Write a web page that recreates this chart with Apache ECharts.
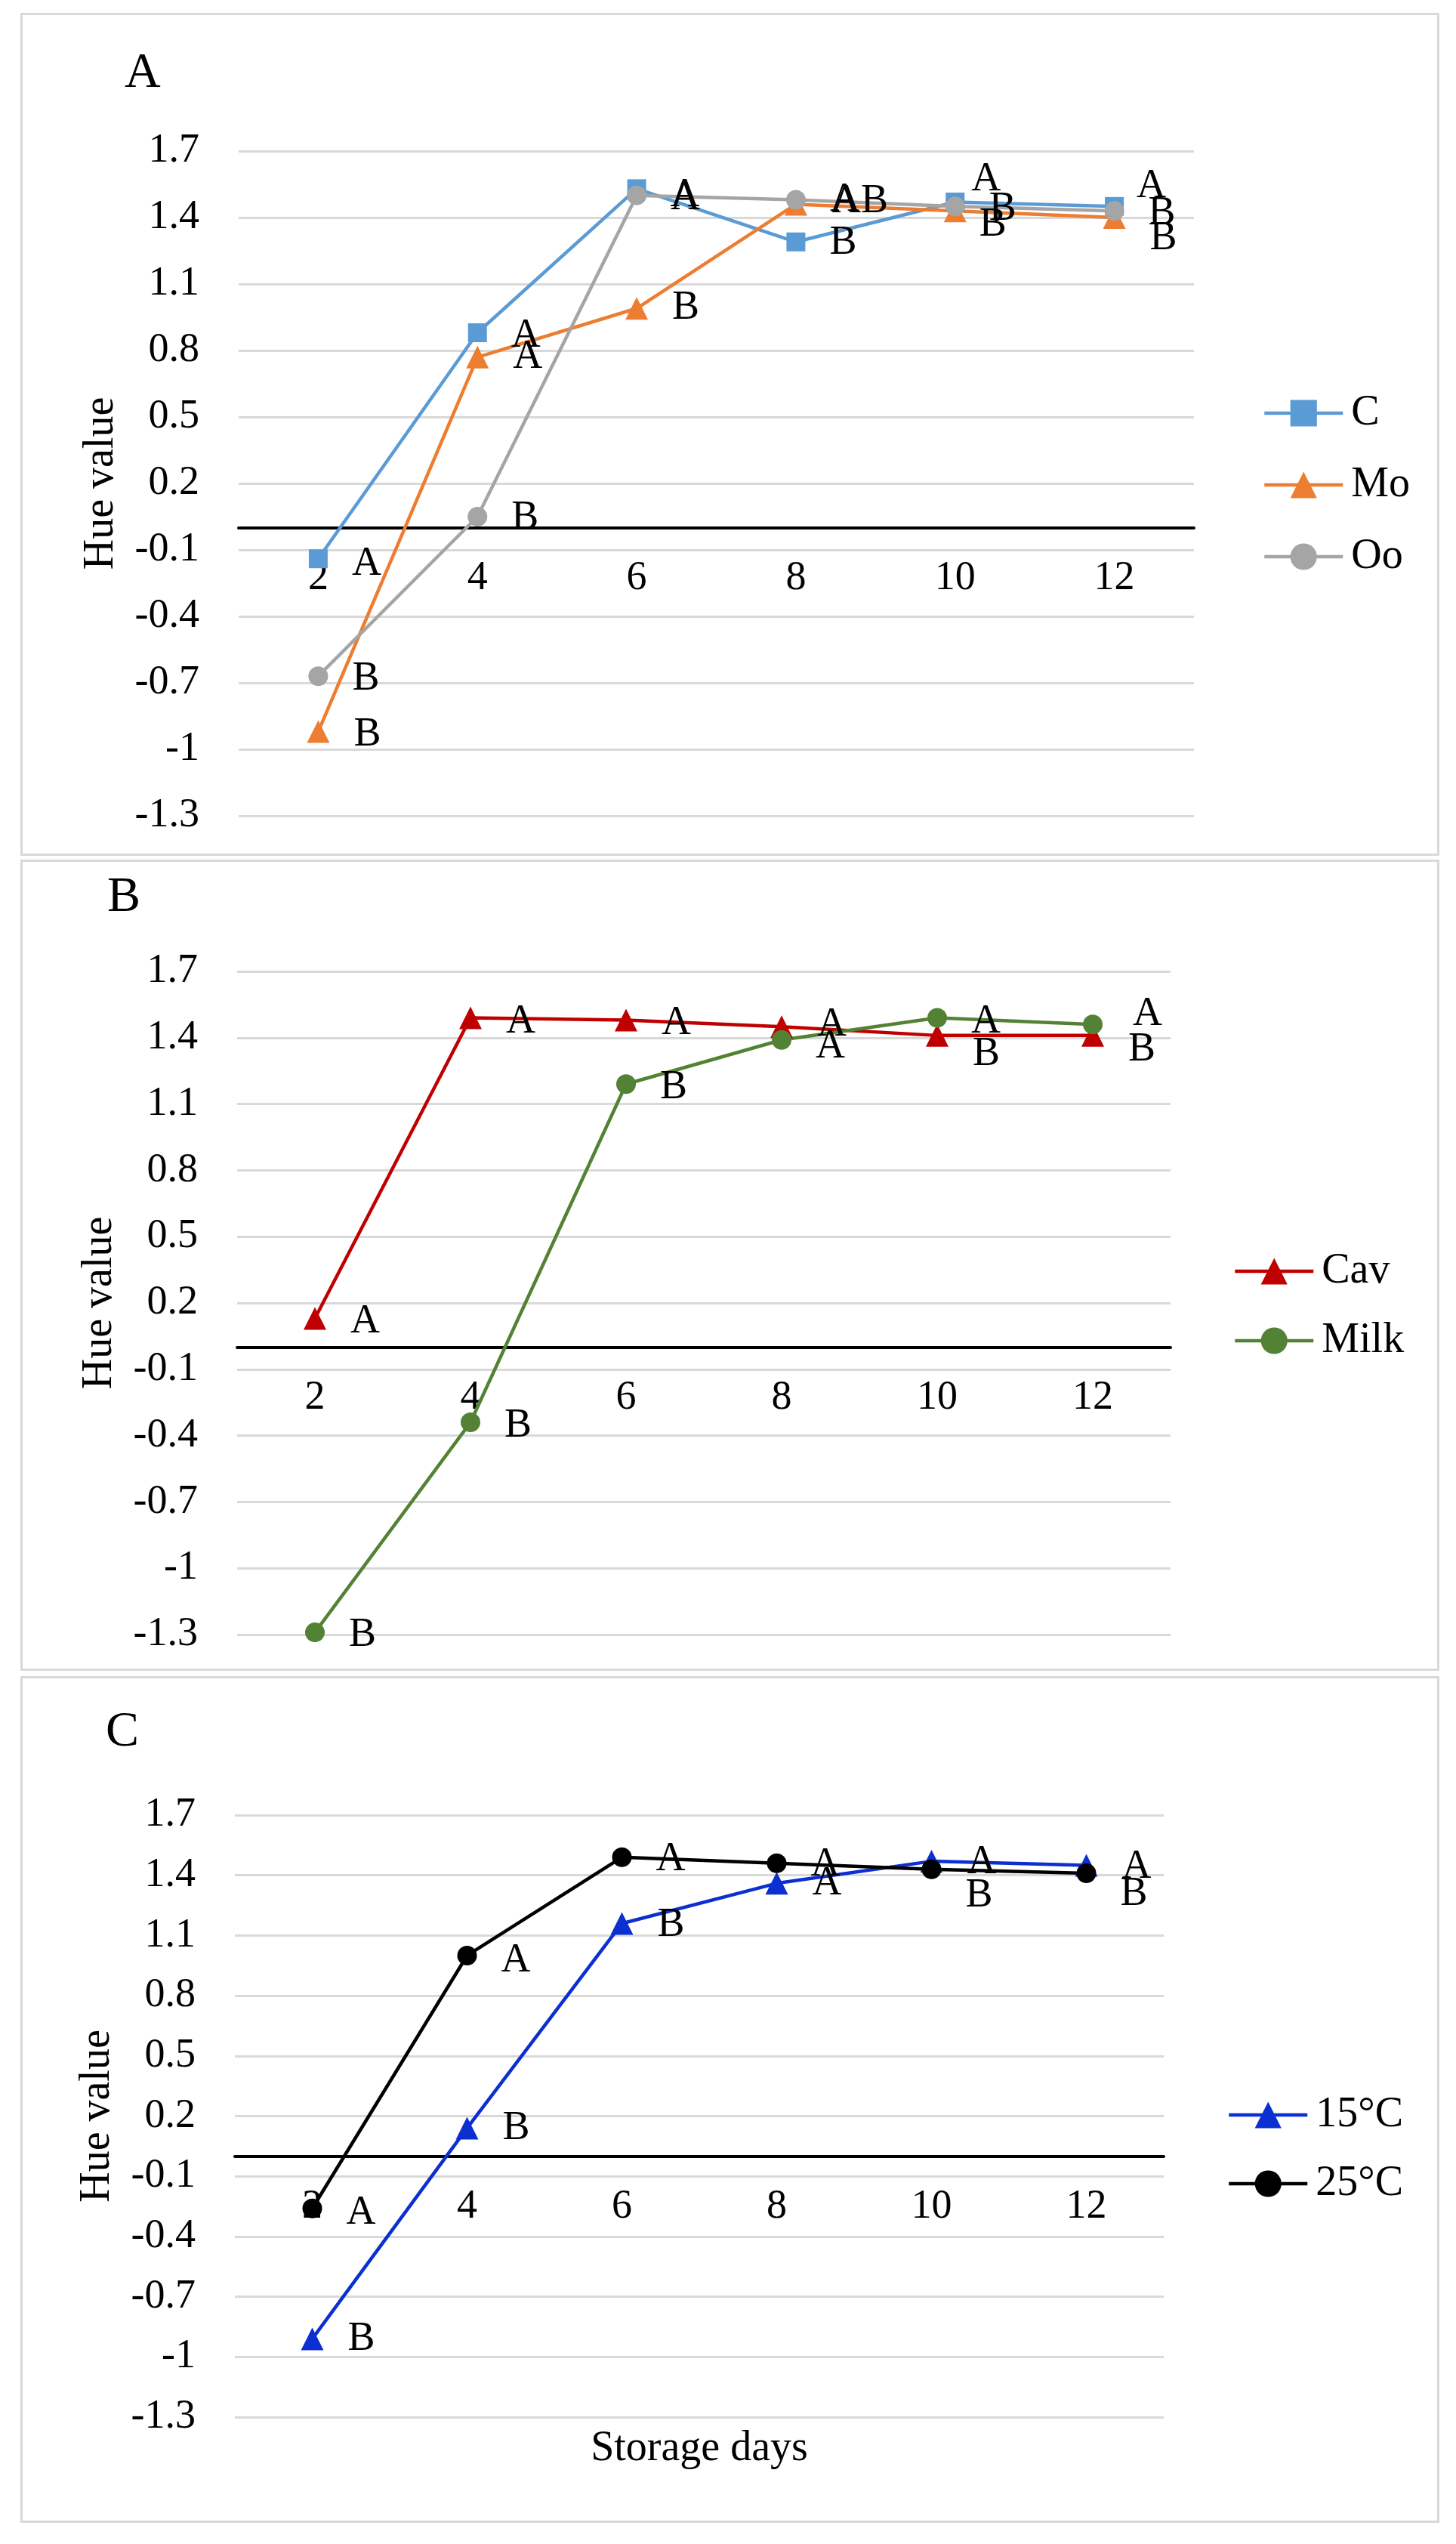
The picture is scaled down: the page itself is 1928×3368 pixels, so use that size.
<!DOCTYPE html>
<html>
<head>
<meta charset="utf-8">
<script src="https://cdn.jsdelivr.net/npm/echarts@6/dist/echarts.min.js"></script>
<style>
body { margin: 0; background: #fff; width: 1928px; height: 3368px; position: relative; }
.panel { position: absolute; left: 27px; width: 1873px; border: 3px solid #d9d9d9; background: #fff; }
</style>
</head>
<body>
<div id="panel-a" class="panel" style="top:17px;height:1110px"></div>
<div id="panel-b" class="panel" style="top:1138px;height:1068px"></div>
<div id="panel-c" class="panel" style="top:2219px;height:1115px"></div>
<script>
// storage days (x axis)
var days = ['2', '4', '6', '8', '10', '12'];

// panel A
var hueC  = [-0.14, 0.88, 1.53, 1.29, 1.47, 1.45];
var hueMo = [-0.92, 0.77, 0.99, 1.46, 1.43, 1.40];
var hueOo = [-0.67, 0.05, 1.50, 1.48, 1.45, 1.43];
var letC  = ['A', 'A', 'A', 'B', 'A', 'A'];
var letMo = ['B', 'A', 'B', 'AB', 'B', 'B'];
var letOo = ['B', 'B', 'A', 'A', 'B', 'B'];

// panel B
var hueCav  = [0.13, 1.49, 1.48, 1.45, 1.41, 1.41];
var hueMilk = [-1.29, -0.34, 1.19, 1.39, 1.49, 1.46];
var letCav  = ['A', 'A', 'A', 'A', 'B', 'B'];
var letMilk = ['B', 'B', 'B', 'A', 'A', 'A'];

// panel C
var hue15 = [-0.91, 0.14, 1.16, 1.36, 1.47, 1.45];
var hue25 = [-0.26, 1.00, 1.49, 1.46, 1.43, 1.41];
var let15 = ['B', 'B', 'B', 'A', 'A', 'A'];
var let25 = ['A', 'A', 'A', 'A', 'B', 'B'];

// y axis range
var yMin = -1.3, yMax = 1.7, yStep = 0.3;

// label nudges (px) so letters sit like in the figure
var offC    = [[0, 7], [0, 4], [0, 9], [0, 2], [-23, -30], [-15, -27]];
var offMo   = [[0, 4], [0, 0], [0, 0], [0, -4], [-15, 19], [0, 28]];
var offOo   = [[0, 4], [0, 2], [0, 4], [0, 0], [0, 3], [0, 4]];
var offCav  = [[0, 4], [0, 5], [0, 4], [0, -2], [0, 25], [0, 19]];
var offMilk = [[0, 4], [0, 5], [0, 5], [0, 9], [0, 5], [8, -13]];
var off15   = [[0, 0], [0, 0], [0, 2], [0, 0], [0, 2], [0, 2]];
var off25   = [[0, 6], [0, 7], [0, 3], [0, 2], [0, 35], [0, 28]];

var FONT = 'Liberation Serif';

function points(vals, lets, offs) {
    var out = [];
    for (var i = 0; i < vals.length; i++) {
        out.push({ value: vals[i], name: lets[i], label: { offset: offs[i] } });
    }
    return out;
}

function lineSeries(name, color, symbol, size, vals, lets, offs) {
    return {
        name: name,
        type: 'line',
        symbol: symbol,
        symbolSize: size,
        showAllSymbol: true,
        itemStyle: { color: color },
        lineStyle: { color: color, width: 4.5 },
        label: {
            show: true,
            position: 'right',
            distance: 32,
            formatter: '{b}',
            color: '#000',
            fontFamily: FONT,
            fontSize: 54
        },
        data: points(vals, lets, offs)
    };
}

function makePanel(id, p) {
    var chart = echarts.init(document.getElementById(id));
    var option = {
        animation: false,
        backgroundColor: '#fff',
        title: {
            text: p.title,
            left: p.titlePos[0],
            top: p.titlePos[1],
            textStyle: { fontFamily: FONT, fontSize: 66, fontWeight: 'normal', color: '#000' }
        },
        legend: {
            orient: 'vertical',
            left: p.legendPos[0],
            top: p.legendPos[1],
            itemGap: p.legendGap,
            itemWidth: 104,
            itemHeight: 44,
            lineStyle: { width: 4.5 },
            textStyle: { fontFamily: FONT, fontSize: 56, lineHeight: 56, color: '#000', padding: [0, 0, 0, 6] },
            data: p.series.map(function (s) { return s.name; })
        },
        grid: {
            left: p.grid[0], top: p.grid[1], width: p.grid[2], height: p.grid[3],
            containLabel: false,
            outerBoundsMode: 'none'
        },
        xAxis: {
            type: 'category',
            data: days,
            boundaryGap: true,
            name: p.xName || '',
            nameLocation: 'middle',
            nameGap: 360,
            nameTextStyle: { fontFamily: FONT, fontSize: 56, color: '#000' },
            axisLine: { onZero: false, lineStyle: { color: '#000', width: 4 } },
            axisTick: { show: false },
            axisLabel: { margin: 40, fontFamily: FONT, fontSize: 54, color: '#000' },
            splitLine: { show: false }
        },
        yAxis: {
            type: 'value',
            min: yMin,
            max: yMax,
            interval: yStep,
            name: 'Hue value',
            nameLocation: 'middle',
            nameGap: 154,
            nameTextStyle: { fontFamily: FONT, fontSize: 56, color: '#000' },
            axisLine: { show: false },
            axisTick: { show: false },
            axisLabel: { margin: 52, fontFamily: FONT, fontSize: 54, color: '#000' },
            splitLine: { lineStyle: { color: '#d9d9d9', width: 3 } }
        },
        series: p.series
    };
    chart.setOption(option);

    // move the category axis (line + labels) up to where the value axis reads 0
    var zeroY = chart.convertToPixel({ yAxisIndex: 0 }, 0);
    var bottomY = p.grid[1] + p.grid[3];
    chart.setOption({ xAxis: { offset: zeroY - bottomY } });
    return chart;
}

makePanel('panel-a', {
    title: 'A',
    titlePos: [130, 40],
    legendPos: [1637, 494],
    legendGap: 39,
    grid: [286, 180, 1265, 880],
    series: [
        lineSeries('C', '#5b9bd5', 'rect', 25, hueC, letC, offC),
        lineSeries('Mo', '#ed7d31', 'triangle', 30, hueMo, letMo, offMo),
        lineSeries('Oo', '#a5a5a5', 'circle', 26, hueOo, letOo, offOo)
    ]
});

makePanel('panel-b', {
    title: 'B',
    titlePos: [107, 10],
    legendPos: [1598, 509],
    legendGap: 36,
    grid: [284, 145, 1236, 878],
    series: [
        lineSeries('Cav', '#c00000', 'triangle', 30, hueCav, letCav, offCav),
        lineSeries('Milk', '#548235', 'circle', 26, hueMilk, letMilk, offMilk)
    ]
});

makePanel('panel-c', {
    title: 'C',
    titlePos: [105, 34],
    legendPos: [1590, 545],
    legendGap: 35,
    grid: [281, 181, 1230, 797],
    xName: 'Storage days',
    series: [
        lineSeries('15°C', '#0b2fd0', 'triangle', 30, hue15, let15, off15),
        lineSeries('25°C', '#000000', 'circle', 26, hue25, let25, off25)
    ]
});
</script>
</body>
</html>
